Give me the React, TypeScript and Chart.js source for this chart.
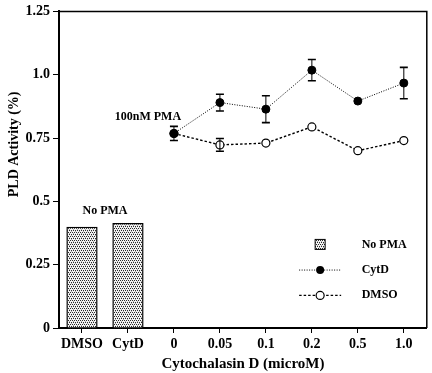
import React, { useEffect, useRef } from "react";
import { Chart, registerables } from "chart.js";

Chart.register(...registerables);

const categories = ["DMSO", "CytD", "0", "0.05", "0.1", "0.2", "0.5", "1.0"];
const noPmaValues = [0.4, 0.415, null, null, null, null, null, null];
const cytdValues = [null, null, 0.768, 0.89, 0.864, 1.018, 0.896, 0.967];
const cytdErrors = [null, null, 0.028, 0.033, 0.053, 0.042, null, 0.062];
const dmsoValues = [null, null, 0.768, 0.723, 0.73, 0.794, 0.7, 0.74];
const dmsoErrors = [null, null, null, 0.025, null, null, null, null];
const yTickValues = [0, 0.25, 0.5, 0.75, 1.0, 1.25];
const yTickLabels = ["0", "0.25", "0.5", "0.75", "1.0", "1.25"];

const SERIF = "'Liberation Serif', 'DejaVu Serif', serif";

function makePattern(): CanvasPattern | string {
  const c = document.createElement("canvas");
  c.width = 4;
  c.height = 4;
  const g = c.getContext("2d");
  if (!g) return "#bbb";
  g.fillStyle = "#f4f4f4";
  g.fillRect(0, 0, 4, 4);
  g.fillStyle = "#2a2a2a";
  g.fillRect(0, 0, 1, 1);
  g.fillRect(2, 0, 1, 1);
  g.fillRect(1, 2, 1, 1);
  g.fillRect(3, 2, 1, 1);
  g.fillStyle = "#b0b0b0";
  g.fillRect(1, 1, 1, 1);
  g.fillRect(3, 3, 1, 1);
  const ctx = document.createElement("canvas").getContext("2d");
  const p = ctx ? ctx.createPattern(c, "repeat") : null;
  return p || "#bbb";
}

export default function App() {
  const ref = useRef<HTMLCanvasElement | null>(null);
  useEffect(() => {
    if (!ref.current) return;
    const pattern = makePattern();

    const errorBars = {
      id: "errorBars",
      afterDatasetsDraw(chart: any) {
        const ctx = chart.ctx;
        const y = chart.scales.y;
        const sets = [
          { idx: 1, vals: cytdValues, errs: cytdErrors },
          { idx: 2, vals: dmsoValues, errs: dmsoErrors },
        ];
        ctx.save();
        ctx.strokeStyle = "#000";
        sets.forEach((s) => {
          const meta = chart.getDatasetMeta(s.idx);
          s.errs.forEach((e, i) => {
            const v = s.vals[i];
            if (e == null || v == null) return;
            const pt = meta.data[i];
            const x = pt.x;
            const top = y.getPixelForValue(v + e);
            const bot = y.getPixelForValue(v - e);
            ctx.lineWidth = 1;
            ctx.beginPath();
            ctx.moveTo(x, top);
            ctx.lineTo(x, bot);
            ctx.stroke();
            ctx.lineWidth = 1.6;
            ctx.beginPath();
            ctx.moveTo(x - 4, top);
            ctx.lineTo(x + 4, top);
            ctx.moveTo(x - 4, bot);
            ctx.lineTo(x + 4, bot);
            ctx.stroke();
          });
        });
        ctx.restore();
      },
    };

    const decorations = {
      id: "decorations",
      afterDraw(chart: any) {
        const ctx = chart.ctx;
        const a = chart.chartArea;
        const xs = chart.scales.x;
        const ys = chart.scales.y;
        ctx.save();
        // frame
        ctx.strokeStyle = "#000";
        ctx.lineWidth = 1.5;
        ctx.beginPath();
        ctx.moveTo(a.left, a.top);
        ctx.lineTo(a.right, a.top);
        ctx.lineTo(a.right, a.bottom);
        ctx.stroke();

        // y axis title
        ctx.fillStyle = "#000";
        ctx.save();
        ctx.translate(14, a.top + (a.bottom - a.top) * 0.42);
        ctx.rotate(-Math.PI / 2);
        ctx.textAlign = "center";
        ctx.textBaseline = "middle";
        ctx.font = `bold 14px ${SERIF}`;
        ctx.fillText("PLD Activity (%)", 0, 0);
        ctx.restore();

        ctx.textBaseline = "middle";
        ctx.textAlign = "center";
        ctx.font = `bold 12px ${SERIF}`;
        // 100nM PMA label
        const x0 = xs.getPixelForValue(2);
        ctx.fillText("100nM PMA", x0 - 26, ys.getPixelForValue(cytdValues[2] as number) - 17);
        // No PMA over bars
        const xb = (xs.getPixelForValue(0) + xs.getPixelForValue(1)) / 2;
        ctx.fillText("No PMA", xb, ys.getPixelForValue(0.5) + 10);

        // legend
        const w = a.right - a.left;
        const h = a.bottom - a.top;
        const lx = a.left + w * 0.71; // symbol center
        const tx = a.left + w * 0.823; // text left
        const rows = [a.top + h * 0.736, a.top + h * 0.817, a.top + h * 0.897];
        ctx.textAlign = "left";
        ctx.font = `bold 12px ${SERIF}`;
        // No PMA swatch
        ctx.fillStyle = pattern as any;
        ctx.fillRect(lx - 5, rows[0] - 5, 10, 10);
        ctx.strokeStyle = "#000";
        ctx.lineWidth = 1;
        ctx.strokeRect(lx - 5, rows[0] - 5, 10, 10);
        ctx.fillStyle = "#000";
        ctx.fillText("No PMA", tx, rows[0]);
        // CytD
        ctx.lineWidth = 1;
        ctx.setLineDash([1, 1.5]);
        ctx.beginPath();
        ctx.moveTo(lx - 21, rows[1]);
        ctx.lineTo(lx + 21, rows[1]);
        ctx.stroke();
        ctx.setLineDash([]);
        ctx.beginPath();
        ctx.arc(lx, rows[1], 4, 0, Math.PI * 2);
        ctx.fillStyle = "#000";
        ctx.fill();
        ctx.fillText("CytD", tx, rows[1]);
        // DMSO
        ctx.lineWidth = 1.4;
        ctx.setLineDash([2.5, 2]);
        ctx.beginPath();
        ctx.moveTo(lx - 21, rows[2]);
        ctx.lineTo(lx + 21, rows[2]);
        ctx.stroke();
        ctx.setLineDash([]);
        ctx.beginPath();
        ctx.arc(lx, rows[2], 4, 0, Math.PI * 2);
        ctx.fillStyle = "#fff";
        ctx.fill();
        ctx.lineWidth = 1.2;
        ctx.stroke();
        ctx.fillStyle = "#000";
        ctx.fillText("DMSO", tx, rows[2]);
        ctx.restore();
      },
    };

    const chart = new Chart(ref.current, {
      type: "bar",
      data: {
        labels: categories,
        datasets: [
          {
            type: "bar",
            label: "No PMA",
            data: noPmaValues as any,
            backgroundColor: pattern as any,
            borderColor: "#000",
            borderWidth: 1.5,
            barPercentage: 0.68,
            categoryPercentage: 1,
            order: 3,
          },
          {
            type: "line",
            label: "CytD",
            data: cytdValues as any,
            borderColor: "#000",
            borderWidth: 1,
            borderDash: [1, 1.5],
            pointRadius: 4,
            pointBackgroundColor: "#000",
            pointBorderColor: "#000",
            pointBorderWidth: 1,
            fill: false,
            tension: 0,
            order: 1,
          },
          {
            type: "line",
            label: "DMSO",
            data: dmsoValues as any,
            borderColor: "#000",
            borderWidth: 1.4,
            borderDash: [2.5, 2],
            pointRadius: 4,
            pointBackgroundColor: "#fff",
            pointBorderColor: "#000",
            pointBorderWidth: 1.2,
            fill: false,
            tension: 0,
            order: 2,
          },
        ],
      },
      options: {
        responsive: false,
        animation: false,
        layout: { padding: { top: 6, right: 2, left: 0, bottom: 0 } },
        plugins: {
          legend: { display: false },
          tooltip: { enabled: false },
        },
        scales: {
          x: {
            offset: true,
            grid: {
              display: true,
              drawOnChartArea: false,
              drawTicks: true,
              tickLength: 5,
              color: "#000",
              offset: false,
              lineWidth: 1,
            },
            border: { display: true, color: "#000", width: 2 },
            ticks: {
              color: "#000",
              font: { family: SERIF, size: 14, weight: "bold" },
              padding: 3,
              maxRotation: 0,
              autoSkip: false,
            },
            title: {
              display: true,
              text: "Cytochalasin D (microM)",
              color: "#000",
              font: { family: SERIF, size: 15, weight: "bold" },
              padding: { top: 0, bottom: 0 },
            },
            afterFit(scale: any) {
              scale.height = 45;
            },
          },
          y: {
            min: 0,
            max: 1.25,
            grid: {
              display: true,
              drawOnChartArea: false,
              drawTicks: true,
              tickLength: 6,
              color: "#000",
              lineWidth: 1,
            },
            border: { display: true, color: "#000", width: 2 },
            afterBuildTicks(scale: any) {
              scale.ticks = yTickValues.map((v) => ({ value: v }));
            },
            ticks: {
              color: "#000",
              font: { family: SERIF, size: 14, weight: "bold" },
              padding: 3,
              callback: (v: any) => {
                const i = yTickValues.findIndex((t) => Math.abs(t - Number(v)) < 1e-6);
                return i >= 0 ? yTickLabels[i] : "";
              },
            },
            title: { display: false },
            afterFit(scale: any) {
              scale.width = 59;
            },
          },
        },
      },
      plugins: [errorBars, decorations],
    });
    return () => chart.destroy();
  }, []);

  return (
    <div style={{ position: "absolute", left: 0, top: 0, width: 432, height: 373, background: "#fff" }}>
      <canvas ref={ref} width={432} height={373} />
    </div>
  );
}
